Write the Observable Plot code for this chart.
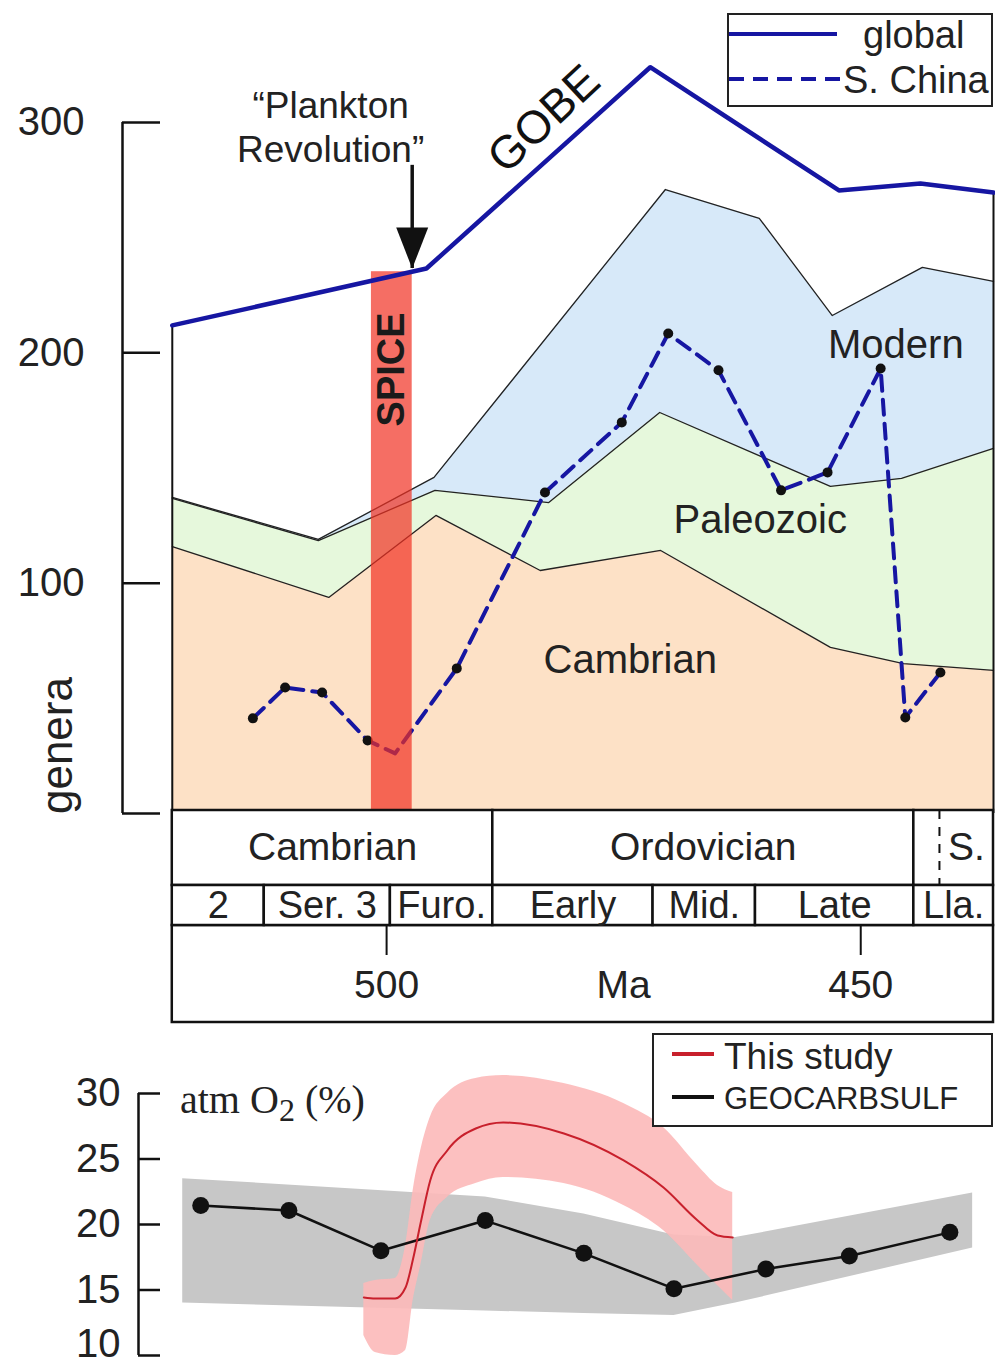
<!DOCTYPE html>
<html><head><meta charset="utf-8">
<script src="https://cdn.jsdelivr.net/npm/d3@7"></script>
<script src="https://cdn.jsdelivr.net/npm/@observablehq/plot@0.6"></script>
<style>
body{margin:0;background:#fff;font-family:"Liberation Sans",Arial,sans-serif;color:#111;}
#wrap{position:relative;width:995px;height:1364px;overflow:hidden;background:#fff;}
.legend{position:absolute;border:2px solid #222;box-sizing:border-box;background:#fff;overflow:visible;}
.legend svg{overflow:visible;display:block;}
.o2label{position:absolute;font-family:"Liberation Serif","Times New Roman",serif;font-size:40px;color:#222;white-space:nowrap;}
</style></head><body><div id="wrap"></div>
<script>
// ---------- data (ages in Ma, genera counts, O2 %) ----------
const globalAge    = [522.6, 495.8, 472.2, 452.3, 443.7, 436.0];
const globalGenera = [211.9, 236.6, 324.0, 270.5, 273.5, 269.6];

const modernAge = [522.6, 507.2, 495.0, 470.6, 460.7, 453.0, 443.5, 436.0];
const modernTop = [137.2, 119.0, 145.9, 270.9, 258.4, 216.2, 237.1, 231.0];

const paleoAge = [522.6, 507.2, 494.9, 482.9, 471.2, 453.2, 445.7, 436.0];
const paleoTop = [136.8, 118.5, 140.3, 135.0, 174.1, 142.0, 145.5, 158.5];

const cambAge = [522.6, 506.1, 494.8, 483.8, 471.1, 453.2, 445.5, 436.0];
const cambTop = [115.9, 93.8, 129.4, 105.5, 114.2, 72.1, 65.1, 62.1];

const chinaAge    = [514.1, 510.7, 506.8, 502.0, 499.1, 492.6, 483.3, 475.2, 470.3, 465.0, 458.4, 453.5, 447.9, 445.3, 441.6];
const chinaGenera = [41.3, 54.7, 52.5, 31.7, 26.1, 63.0, 139.4, 169.8, 208.4, 192.4, 140.3, 148.1, 193.2, 41.7, 61.2];

const spiceStart = 501.6, spiceEnd = 497.3;

const periodNames = ["Cambrian", "Ordovician", "S."];
const periodStart = [522.6, 488.8, 444.4];
const periodEnd   = [488.8, 444.4, 436.0];
const silurianDash = 441.7;
const epochNames = ["2", "Ser. 3", "Furo.", "Early", "Mid.", "Late", "Lla."];
const epochStart = [522.6, 512.9, 499.6, 488.8, 471.9, 461.1, 444.4];
const epochEnd   = [512.9, 499.6, 488.8, 471.9, 461.1, 444.4, 436.0];
const maTicks = [500, 450];
const generaTicks = [0, 100, 200, 300];
const o2Ticks = [10, 15, 20, 25, 30];

const geocarbAge = [519.6, 510.3, 500.6, 489.6, 479.2, 469.7, 460.0, 451.2, 440.6];
const geocarbO2  = [21.45, 21.07, 18.0, 20.3, 17.8, 15.1, 16.6, 17.6, 19.4];
const geoBandAge  = [521.5, 489.6, 479.2, 469.7, 463.2, 438.2];
const geoBandLow  = [14.0, 13.4, 13.2, 13.05, 14.0, 18.2];
const geoBandHigh = [23.5, 22.1, 20.8, 19.2, 19.0, 22.4];

const studyAge  = [502.4, 501.2, 499.1, 498.0, 497.2, 496.4, 495.4, 493.6, 490.6, 487.7, 481.3, 475.0, 470.8, 467.2, 465.1, 463.5];
const studyO2   = [14.43, 14.35, 14.35, 15.19, 17.40, 20.15, 23.36, 25.65, 27.33, 27.79, 26.95, 24.89, 22.82, 20.31, 19.16, 19.01];
const studyHigh = [15.50, 15.73, 15.88, 18.40, 22.60, 25.65, 28.17, 30.0, 31.15, 31.37, 30.76, 29.24, 27.40, 24.50, 22.98, 22.44];
const studyLow  = [11.53, 10.23, 10.0, 10.38, 14.2, 16.87, 20.31, 22.06, 23.13, 23.59, 23.13, 21.45, 19.54, 16.87, 15.34, 14.2];

// ---------- build tables ----------
const pts = (xs, ys) => xs.map((x, i) => ({x, y: ys[i]}));
const global = pts(globalAge, globalGenera);
const modern = pts(modernAge, modernTop);
const paleo = pts(paleoAge, paleoTop);
const camb = pts(cambAge, cambTop);
const china = pts(chinaAge, chinaGenera);
const globalAt = d3.scaleLinear().domain(globalAge).range(globalGenera);
const spice = [{start: spiceStart, end: spiceEnd, top: globalAt(spiceEnd)}];
const periods = periodNames.map((name, i) => ({name, start: periodStart[i], end: periodEnd[i]}));
const epochs = epochNames.map((name, i) => ({name, start: epochStart[i], end: epochEnd[i]}));
const geocarb = pts(geocarbAge, geocarbO2);
const geoBand = geoBandAge.map((x, i) => ({x, lo: geoBandLow[i], hi: geoBandHigh[i]}));
const study = pts(studyAge, studyO2);
const studyBand = studyAge.map((x, i) => ({x, lo: studyLow[i], hi: studyHigh[i]}));

const faunaLabels = [
  {text: "Modern", x: 446.3, y: 203.2},
  {text: "Paleozoic", x: 460.6, y: 127.2},
  {text: "Cambrian", x: 474.3, y: 66.4}
];
const arrow = {x: 497.3, from: 281.4, to: 236.6};

const xDomain = [527.85, 436.0];
const BLUE = "#1616a2";
const FONT = '"Liberation Sans", Arial, sans-serif';
const baseStyle = {fontFamily: FONT, background: "transparent", color: "#111", overflow: "visible"};
const downTriangle = {draw(ctx) { ctx.moveTo(-16, -41); ctx.lineTo(16, -41); ctx.lineTo(0, 0); ctx.closePath(); }};

const wrap = document.getElementById("wrap");
function place(el, top) { el.style.position = "absolute"; el.style.left = "0px"; el.style.top = top + "px"; wrap.appendChild(el); }

// ---------- top panel ----------
const topPlot = Plot.plot({
  width: 995, height: 830,
  marginLeft: 122, marginRight: 2, marginTop: 122, marginBottom: 17,
  x: {domain: xDomain, axis: null},
  y: {domain: [0, 300]},
  style: baseStyle,
  marks: [
    Plot.areaY(modern, {x: "x", y1: 0, y2: "y", fill: "#d7e9f9"}),
    Plot.areaY(paleo, {x: "x", y1: 0, y2: "y", fill: "#e6f8dc"}),
    Plot.areaY(camb, {x: "x", y1: 0, y2: "y", fill: "#fde1c6"}),
    Plot.line(modern, {x: "x", y: "y", stroke: "#222", strokeWidth: 1.3}),
    Plot.line(paleo, {x: "x", y: "y", stroke: "#222", strokeWidth: 1.3}),
    Plot.line(camb, {x: "x", y: "y", stroke: "#222", strokeWidth: 1.3}),
    Plot.ruleX([global[0], global[global.length - 1]], {x: "x", y1: 0, y2: "y", stroke: "#111", strokeWidth: 2}),
    Plot.line(china, {x: "x", y: "y", stroke: BLUE, strokeWidth: 4, strokeDasharray: "15,9"}),
    Plot.dot(china.filter(d => !(d.x <= spiceStart && d.x >= spiceEnd)), {x: "x", y: "y", r: 5, fill: "#111"}),
    Plot.rect(spice, {x1: "start", x2: "end", y1: 0, y2: "top", fill: "#f13022", fillOpacity: 0.7}),
    Plot.line(global, {x: "x", y: "y", stroke: BLUE, strokeWidth: 4.5}),
    Plot.text(spice, {x: d => (d.start + d.end) / 2, y: 192.8, text: () => "SPICE", rotate: -90, fontSize: 38, fontWeight: "bold", fill: "#1a1a1a"}),
    Plot.ruleX([arrow], {x: "x", y1: "from", y2: "to", stroke: "#111", strokeWidth: 3.5}),
    Plot.dot([arrow], {x: "x", y: "to", symbol: downTriangle, r: 10, fill: "#111"}),
    Plot.text(["“Plankton\nRevolution”"], {x: 505.9, y: 298.5, fontSize: 37, lineHeight: 1.19, fill: "#222"}),
    Plot.text(["GOBE"], {x: 483.4, y: 301.5, rotate: -43, fontSize: 46, fill: "#111"}),
    Plot.text(faunaLabels, {x: "x", y: "y", text: "text", fontSize: 40, fill: "#222"}),
    Plot.text(["genera"], {frameAnchor: "left", y: 29.5, dx: -65, rotate: -90, textAnchor: "middle", fontSize: 44, fill: "#222"}),
    Plot.ruleX([xDomain[0]], {y1: 0, y2: 300, stroke: "#111", strokeWidth: 2.5}),
    Plot.axisY({ticks: generaTicks, tickFormat: d => d === 0 ? "" : String(d), tickSize: -38, tickPadding: 76, fontSize: 40, strokeWidth: 2.5, label: null, fill: "#222"})
  ]
});
place(topPlot, 0);

// ---------- time scale ----------
const tsPlot = Plot.plot({
  width: 995, height: 230,
  marginLeft: 122, marginRight: 2, marginTop: 10, marginBottom: 8,
  x: {domain: xDomain, axis: null},
  y: {domain: [0, 212], range: [10, 222], axis: null},
  style: baseStyle,
  marks: [
    Plot.rect([{start: periodStart[0], end: periodEnd[periodEnd.length - 1]}], {x1: "start", x2: "end", y1: 115, y2: 212, fill: "white", stroke: "#111", strokeWidth: 2.5}),
    Plot.rect(periods, {x1: "start", x2: "end", y1: 0, y2: 75, fill: "white", stroke: "#111", strokeWidth: 2.5}),
    Plot.rect(epochs, {x1: "start", x2: "end", y1: 75, y2: 115, fill: "white", stroke: "#111", strokeWidth: 2.5}),
    Plot.ruleX([silurianDash], {y1: 0, y2: 75, stroke: "#111", strokeWidth: 2, strokeDasharray: "9,8"}),
    Plot.text(periods, {x: d => d.name === "S." ? (silurianDash + d.end) / 2 : (d.start + d.end) / 2, y: 37.5, text: "name", fontSize: 39, fill: "#222"}),
    Plot.text(epochs, {x: d => (d.start + d.end) / 2, y: 95, text: "name", fontSize: 38, fill: "#222"}),
    Plot.ruleX(maTicks, {y1: 115, y2: 145, stroke: "#111", strokeWidth: 2}),
    Plot.text(maTicks, {x: d => d, y: 175, text: d => String(d), fontSize: 39, fill: "#222"}),
    Plot.text(["Ma"], {x: d3.mean(maTicks), y: 175, fontSize: 39, fill: "#222"})
  ]
});
place(tsPlot, 800);

// ---------- bottom panel ----------
const botPlot = Plot.plot({
  width: 995, height: 334,
  marginLeft: 122, marginRight: 2, marginTop: 63, marginBottom: 9,
  x: {domain: xDomain, axis: null},
  y: {domain: [10, 30]},
  style: baseStyle,
  marks: [
    Plot.areaY(geoBand, {x: "x", y1: "lo", y2: "hi", fill: "#c7c7c7"}),
    Plot.areaY(studyBand, {x: "x", y1: "lo", y2: "hi", fill: "#fcb9b9", fillOpacity: 0.9, curve: "monotone-x"}),
    Plot.line(geocarb, {x: "x", y: "y", stroke: "#111", strokeWidth: 2.5}),
    Plot.line(study, {x: "x", y: "y", stroke: "#c8202c", strokeWidth: 2, curve: "monotone-x"}),
    Plot.dot(geocarb, {x: "x", y: "y", r: 8.5, fill: "#111"}),
    Plot.ruleX([xDomain[0]], {y1: 10, y2: 30, dx: 16, stroke: "#111", strokeWidth: 2.5}),
    Plot.axisY({ticks: o2Ticks, tickFormat: d => d === 10 ? "" : String(d), tickSize: -22, tickPadding: 40, dx: 16, fontSize: 40, strokeWidth: 2.5, label: null, fill: "#222"}),
    Plot.text(o2Ticks.filter(d => d === 10), {frameAnchor: "left", y: d => d, text: d => String(d), dx: -2, dy: 1, textAnchor: "end", lineAnchor: "bottom", fontSize: 40, fill: "#222"})
  ]
});
place(botPlot, 1030);

// ---------- legends & labels ----------
const leg1 = document.createElement("div");
leg1.className = "legend";
leg1.style.cssText += "left:727px;top:13px;width:266px;height:94px;";
leg1.innerHTML = `<svg width="262" height="90">
  <line x1="0" x2="108" y1="19" y2="19" stroke="${BLUE}" stroke-width="4"/>
  <text x="134" y="20" dominant-baseline="central" font-family='${FONT}' font-size="38" fill="#222">global</text>
  <line x1="0" x2="114" y1="64" y2="64" stroke="${BLUE}" stroke-width="4" stroke-dasharray="15,9"/>
  <text x="114" y="65" dominant-baseline="central" font-family='${FONT}' font-size="38" fill="#222">S. China</text>
</svg>`;
wrap.appendChild(leg1);

const leg2 = document.createElement("div");
leg2.className = "legend";
leg2.style.cssText += "left:652px;top:1033px;width:341px;height:94px;";
leg2.innerHTML = `<svg width="337" height="90">
  <line x1="18" x2="60" y1="19" y2="19" stroke="#c8202c" stroke-width="4"/>
  <text x="70" y="21" dominant-baseline="central" font-family='${FONT}' font-size="37" fill="#222">This study</text>
  <line x1="18" x2="60" y1="62" y2="62" stroke="#111" stroke-width="4"/>
  <text x="70" y="63" dominant-baseline="central" font-family='${FONT}' font-size="31" fill="#222">GEOCARBSULF</text>
</svg>`;
wrap.appendChild(leg2);

const o2 = document.createElement("div");
o2.className = "o2label";
o2.style.left = "180px";
o2.style.top = "1076px";
o2.innerHTML = 'atm O<span style="font-size:32px;position:relative;top:8px">2</span> (%)';
wrap.appendChild(o2);
</script></body></html>
